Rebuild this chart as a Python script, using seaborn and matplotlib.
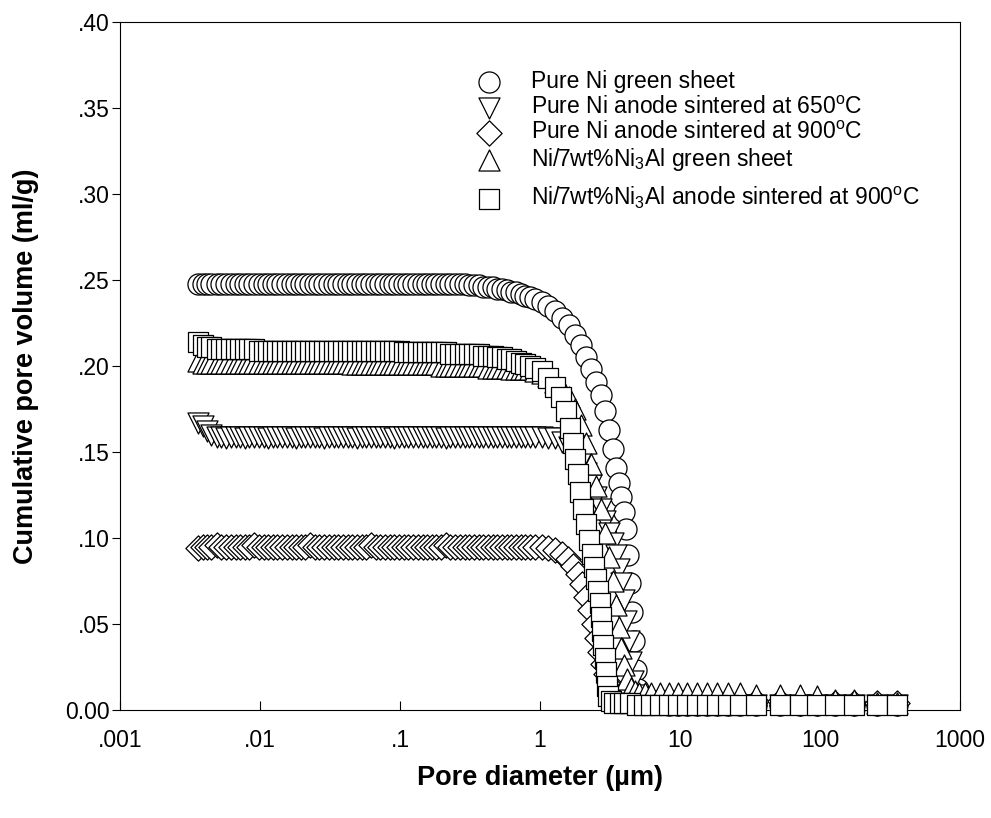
import matplotlib
matplotlib.use('Agg')
import matplotlib.pyplot as plt
import seaborn as sns
import pandas as pd
from matplotlib.ticker import FixedLocator, FixedFormatter, NullLocator

# --- data ---
SERIES = [
    "Pure Ni green sheet",
    r"Pure Ni anode sintered at 650$^{\mathrm{o}}$C",
    r"Pure Ni anode sintered at 900$^{\mathrm{o}}$C",
    r"Ni/7wt%Ni$_{3}$Al green sheet",
    r"Ni/7wt%Ni$_{3}$Al anode sintered at 900$^{\mathrm{o}}$C",
]

# pore diameters (um) of the flat part, shared by all samples
PLATEAU_D = [0.0036, 0.0039, 0.0042, 0.0045, 0.0049, 0.0053, 0.0057, 0.0062, 0.0067, 0.0072,
             0.0078, 0.0084, 0.0091, 0.0098, 0.0106, 0.0114, 0.0123, 0.0133, 0.0144, 0.0155,
             0.0168, 0.0181, 0.0196, 0.0211, 0.0228, 0.0246, 0.0266, 0.0287, 0.031, 0.0335,
             0.0362, 0.0391, 0.0422, 0.0456, 0.0492, 0.0532, 0.0574, 0.062, 0.067, 0.0723,
             0.0781, 0.0844, 0.0911, 0.0984, 0.106, 0.115, 0.124, 0.134, 0.145, 0.156,
             0.169, 0.182, 0.197, 0.212, 0.229, 0.248, 0.268, 0.289, 0.312, 0.337,
             0.364, 0.393, 0.425, 0.459, 0.495, 0.535, 0.578, 0.624, 0.674, 0.728, 0.786, 0.849]
# large pores, shared by all samples
TAIL_D = [6.2, 7.2, 8.4, 9.6, 11.2, 13.2, 15.5, 18.5, 22, 27, 35, 52, 72, 95, 128, 175, 257, 355]

# Pure Ni green sheet
ni_green_plateau = [0.248, 0.248, 0.248, 0.248, 0.248, 0.248, 0.248, 0.248, 0.248, 0.248,
                    0.248, 0.248, 0.248, 0.248, 0.248, 0.248, 0.248, 0.248, 0.248, 0.248,
                    0.248, 0.248, 0.248, 0.248, 0.248, 0.248, 0.248, 0.248, 0.248, 0.248,
                    0.248, 0.248, 0.248, 0.248, 0.248, 0.248, 0.248, 0.248, 0.248, 0.248,
                    0.248, 0.248, 0.248, 0.248, 0.248, 0.248, 0.248, 0.248, 0.248, 0.248,
                    0.248, 0.248, 0.248, 0.248, 0.248, 0.248, 0.248, 0.248, 0.247, 0.247,
                    0.247, 0.246, 0.246, 0.246, 0.245, 0.245, 0.244, 0.243, 0.243, 0.242, 0.241, 0.240]
ni_green_drop_d = [0.92, 1.03, 1.15, 1.29, 1.44, 1.6, 1.77, 1.95, 2.13, 2.32, 2.52, 2.72, 2.92, 3.12,
                   3.3, 3.48, 3.65, 3.82, 3.98, 4.14, 4.28, 4.42, 4.56, 4.7, 4.85, 5.0, 5.3]
ni_green_drop_v = [0.239, 0.237, 0.235, 0.232, 0.228, 0.224, 0.218, 0.212, 0.205, 0.198, 0.191, 0.183,
                   0.174, 0.163, 0.152, 0.141, 0.132, 0.124, 0.115, 0.105, 0.090, 0.074, 0.057, 0.040,
                   0.023, 0.012, 0.006]
ni_green_tail = [0.004, 0.004, 0.003, 0.003, 0.003, 0.003, 0.003, 0.003, 0.003,
                 0.003, 0.003, 0.003, 0.003, 0.003, 0.003, 0.003, 0.003, 0.003]

# Pure Ni sintered 650C
ni650_plateau = [0.167, 0.165, 0.162, 0.160, 0.159, 0.159, 0.158, 0.159, 0.159, 0.159,
                 0.158, 0.159, 0.159, 0.159, 0.159, 0.158, 0.159, 0.159, 0.159, 0.159,
                 0.159, 0.158, 0.159, 0.159, 0.159, 0.159, 0.159, 0.158, 0.159, 0.159,
                 0.159, 0.159, 0.159, 0.159, 0.158, 0.159, 0.159, 0.159, 0.159, 0.159,
                 0.159, 0.159, 0.158, 0.159, 0.159, 0.159, 0.159, 0.159, 0.159, 0.159,
                 0.159, 0.159, 0.159, 0.158, 0.159, 0.159, 0.159, 0.159, 0.159, 0.159,
                 0.159, 0.159, 0.159, 0.159, 0.159, 0.159, 0.159, 0.159, 0.159, 0.159, 0.159, 0.159]
ni650_drop_d = [0.92, 1.03, 1.15, 1.29, 1.44, 1.6, 1.77, 1.95, 2.13, 2.32, 2.52, 2.72, 2.92,
                3.12, 3.3, 3.48, 3.65, 3.82, 3.98, 4.14, 4.3, 4.46, 4.62, 4.8, 5.0, 5.3]
ni650_drop_v = [0.159, 0.159, 0.158, 0.158, 0.156, 0.153, 0.149, 0.144, 0.138, 0.131, 0.124, 0.117,
                0.110, 0.103, 0.097, 0.090, 0.082, 0.074, 0.064, 0.052, 0.040, 0.028, 0.017, 0.009,
                0.006, 0.005]
ni650_tail = [0.004, 0.004, 0.004, 0.003, 0.003, 0.003, 0.003, 0.003, 0.003,
              0.003, 0.003, 0.003, 0.003, 0.003, 0.003, 0.003, 0.003, 0.003]

# Pure Ni sintered 900C
ni900_plateau = [0.094, 0.095, 0.095, 0.095, 0.096, 0.095, 0.095, 0.095, 0.095, 0.095,
                 0.095, 0.095, 0.096, 0.095, 0.095, 0.095, 0.095, 0.095, 0.095, 0.095,
                 0.095, 0.095, 0.095, 0.095, 0.096, 0.095, 0.095, 0.095, 0.095, 0.095,
                 0.095, 0.095, 0.095, 0.095, 0.095, 0.095, 0.095, 0.096, 0.095, 0.095,
                 0.095, 0.095, 0.095, 0.095, 0.095, 0.095, 0.095, 0.095, 0.095, 0.095,
                 0.095, 0.095, 0.095, 0.096, 0.095, 0.095, 0.095, 0.095, 0.095, 0.095,
                 0.095, 0.095, 0.095, 0.095, 0.095, 0.095, 0.095, 0.095, 0.095, 0.095, 0.095, 0.095]
ni900_drop_d = [0.92, 1.03, 1.15, 1.29, 1.44, 1.58, 1.72, 1.86, 2.0, 2.14, 2.28, 2.42, 2.56,
                2.7, 2.84, 2.98, 3.12, 3.3, 3.5, 3.75, 4.0, 4.3, 4.7, 5.2, 5.8]
ni900_drop_v = [0.095, 0.095, 0.094, 0.093, 0.091, 0.088, 0.084, 0.079, 0.073, 0.066, 0.058, 0.050,
                0.042, 0.034, 0.027, 0.021, 0.016, 0.012, 0.009, 0.008, 0.007, 0.006, 0.006, 0.006,
                0.005]
ni900_tail = [0.005, 0.005, 0.005, 0.005, 0.005, 0.005, 0.005, 0.005, 0.005,
              0.005, 0.005, 0.005, 0.004, 0.004, 0.004, 0.004, 0.004, 0.004]

# Ni/7wt%Ni3Al green sheet
al_green_plateau = [0.203, 0.202, 0.202, 0.202, 0.202, 0.202, 0.202, 0.202, 0.202, 0.202,
                    0.202, 0.202, 0.202, 0.202, 0.202, 0.202, 0.202, 0.202, 0.202, 0.202,
                    0.202, 0.202, 0.202, 0.202, 0.202, 0.202, 0.202, 0.202, 0.202, 0.202,
                    0.202, 0.202, 0.202, 0.201, 0.201, 0.201, 0.201, 0.201, 0.201, 0.201,
                    0.201, 0.201, 0.201, 0.201, 0.201, 0.201, 0.201, 0.201, 0.201, 0.201,
                    0.201, 0.201, 0.200, 0.200, 0.200, 0.200, 0.200, 0.200, 0.200, 0.200,
                    0.200, 0.200, 0.199, 0.199, 0.199, 0.199, 0.199, 0.198, 0.198, 0.198, 0.198, 0.198]
al_green_drop_d = [0.92, 1.03, 1.15, 1.29, 1.44, 1.6, 1.77, 1.95, 2.13, 2.32, 2.52, 2.72,
                   2.92, 3.12, 3.3, 3.48, 3.65, 3.82, 4.0, 4.2, 4.45, 4.75, 5.1, 5.6]
al_green_drop_v = [0.197, 0.196, 0.194, 0.191, 0.187, 0.182, 0.175, 0.166, 0.155, 0.143, 0.130, 0.117,
                   0.103, 0.089, 0.075, 0.061, 0.048, 0.036, 0.026, 0.018, 0.013, 0.011, 0.010, 0.010]
al_green_tail = [0.010, 0.010, 0.010, 0.010, 0.010, 0.010, 0.010, 0.010, 0.010,
                 0.010, 0.009, 0.009, 0.009, 0.008, 0.006, 0.006, 0.004, 0.004]

# Ni/7wt%Ni3Al sintered 900C
al900_plateau = [0.214, 0.212, 0.211, 0.211, 0.210, 0.210, 0.210, 0.210, 0.210, 0.210,
                 0.210, 0.210, 0.210, 0.209, 0.209, 0.209, 0.209, 0.209, 0.209, 0.209,
                 0.209, 0.209, 0.209, 0.209, 0.209, 0.209, 0.209, 0.209, 0.209, 0.209,
                 0.209, 0.209, 0.209, 0.209, 0.209, 0.209, 0.209, 0.209, 0.209, 0.209,
                 0.209, 0.209, 0.209, 0.209, 0.208, 0.208, 0.208, 0.208, 0.208, 0.208,
                 0.208, 0.208, 0.208, 0.208, 0.207, 0.207, 0.207, 0.207, 0.207, 0.207,
                 0.207, 0.206, 0.206, 0.206, 0.205, 0.205, 0.204, 0.204, 0.203, 0.202, 0.201, 0.200]
al900_drop_d = [0.92, 1.03, 1.15, 1.29, 1.42, 1.54, 1.64, 1.72, 1.79, 1.86, 1.94, 2.03, 2.13,
                2.24, 2.34, 2.44, 2.53, 2.61, 2.68, 2.74, 2.79, 2.84, 2.89, 2.94, 3.0, 3.08,
                3.2, 3.4, 3.7, 4.0, 4.4, 4.9, 5.5]
al900_drop_v = [0.199, 0.197, 0.193, 0.188, 0.182, 0.174, 0.164, 0.155, 0.146, 0.137, 0.127, 0.117,
                0.108, 0.099, 0.091, 0.083, 0.076, 0.069, 0.062, 0.054, 0.046, 0.038, 0.030, 0.022,
                0.014, 0.008, 0.005, 0.004, 0.004, 0.004, 0.004, 0.003, 0.003]
al900_tail = [0.003, 0.003, 0.003, 0.003, 0.003, 0.003, 0.003, 0.003, 0.003,
              0.003, 0.003, 0.003, 0.003, 0.003, 0.003, 0.003, 0.003, 0.003]

X_TICKS = [0.001, 0.01, 0.1, 1, 10, 100, 1000]
X_TICKLABELS = [".001", ".01", ".1", "1", "10", "100", "1000"]
Y_TICKS = [0.0, 0.05, 0.10, 0.15, 0.20, 0.25, 0.30, 0.35, 0.40]
Y_TICKLABELS = ["0.00", ".05", ".10", ".15", ".20", ".25", ".30", ".35", ".40"]

# --- build one long table ---
parts = [
    (PLATEAU_D + ni_green_drop_d + TAIL_D, ni_green_plateau + ni_green_drop_v + ni_green_tail),
    (PLATEAU_D + ni650_drop_d + TAIL_D, ni650_plateau + ni650_drop_v + ni650_tail),
    (PLATEAU_D + ni900_drop_d + TAIL_D, ni900_plateau + ni900_drop_v + ni900_tail),
    (PLATEAU_D + al_green_drop_d + TAIL_D, al_green_plateau + al_green_drop_v + al_green_tail),
    (PLATEAU_D + al900_drop_d + TAIL_D, al900_plateau + al900_drop_v + al900_tail),
]
frames = []
for name, (d, v) in zip(SERIES, parts):
    frames.append(pd.DataFrame({"diameter": d, "volume": v, "sample": name}))
df = pd.concat(frames, ignore_index=True)

# --- style ---
sns.set_theme(style="white")
plt.rcParams['font.family'] = ['Liberation Sans', 'DejaVu Sans']
plt.rcParams['mathtext.fontset'] = 'custom'
plt.rcParams['mathtext.rm'] = 'Liberation Sans'
plt.rcParams['mathtext.it'] = 'Liberation Sans:italic'
plt.rcParams['mathtext.bf'] = 'Liberation Sans:bold'
for key in ['text.color', 'axes.labelcolor', 'xtick.color', 'ytick.color', 'axes.edgecolor']:
    plt.rcParams[key] = 'black'

markers = ["o", "v", "D", "^", "s"]
sizes = [230, 230, 165, 230, 190]

fig = plt.figure(figsize=(9.91, 8.18), dpi=100)
ax = fig.add_axes([0.1211, 0.132, 0.8476, 0.841])

for name, m, s in zip(SERIES, markers, sizes):
    sns.scatterplot(data=df[df["sample"] == name], x="diameter", y="volume",
                    marker=m, s=s, color="white", edgecolor="black", linewidth=0.9,
                    label=name, ax=ax, zorder=3, clip_on=False)

ax.set_xscale("log")
ax.set_xlim(0.001, 1000)
ax.set_ylim(0, 0.4)
ax.xaxis.set_major_locator(FixedLocator(X_TICKS))
ax.xaxis.set_major_formatter(FixedFormatter(X_TICKLABELS))
ax.xaxis.set_minor_locator(NullLocator())
ax.yaxis.set_major_locator(FixedLocator(Y_TICKS))
ax.yaxis.set_major_formatter(FixedFormatter(Y_TICKLABELS))

for sp in ax.spines.values():
    sp.set_color("black")
    sp.set_linewidth(0.8)
ax.tick_params(axis="x", direction="in", length=6.5, width=0.8, color="black",
               labelsize=16.5, pad=14, bottom=True, top=False)
ax.tick_params(axis="y", direction="out", length=6, width=0.8, color="black",
               labelsize=16.5, pad=1.5, left=True, right=False)

ax.set_xlabel("Pore diameter (µm)", fontsize=19.5, fontweight="bold")
ax.set_ylabel("Cumulative pore volume (ml/g)", fontsize=19.5, fontweight="bold")
ax.xaxis.set_label_coords(0.5, -0.080)
ax.yaxis.set_label_coords(-0.096, 0.5)

# legend: last entry sits a little lower than the others
handles, labels = ax.get_legend_handles_labels()
leg_opts = dict(frameon=False, fontsize=16.5, handletextpad=0.85, labelspacing=0.1,
                borderaxespad=0, borderpad=0)
leg_top = ax.legend(handles[:4], labels[:4], loc="upper left", bbox_to_anchor=(0.412, 0.93), **leg_opts)
ax.add_artist(leg_top)
ax.legend(handles[4:], labels[4:], loc="upper left", bbox_to_anchor=(0.412, 0.763), **leg_opts)

fig.savefig("out.png", dpi=100)
